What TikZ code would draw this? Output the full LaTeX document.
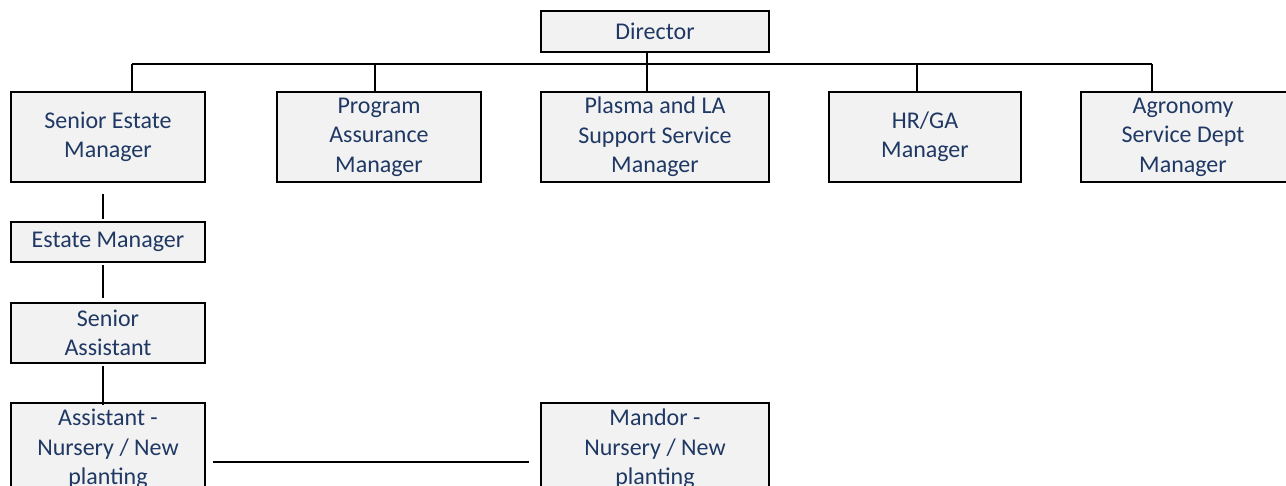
\documentclass[tikz,border=0pt]{standalone}
\usepackage{fontspec}
\setmainfont{Carlito}
\definecolor{txtblue}{HTML}{1F3864}
\definecolor{boxfill}{HTML}{F2F2F2}
\tikzset{
  orgtext/.style={align=center, text=txtblue, font=\fontsize{12}{14.7}\selectfont, inner sep=0pt},
  orgbox/.style={draw=black, line width=1.1pt, fill=boxfill, rectangle, orgtext},
  conn/.style={draw=black, line width=0.9pt}
}
\begin{document}
\begin{tikzpicture}[x=0.5pt, y=-0.5pt]
\useasboundingbox (0,0) rectangle (1286,486);
\clip (0,0) rectangle (1286,486);
\fill[white] (0,0) rectangle (1286,486);
% nodes
\node[orgbox, minimum width=114pt, minimum height=20.5pt] (dir) at (655,31.5) {Director};
\node[orgbox, minimum width=97pt, minimum height=45pt] (sem) at (108,137) {Senior Estate\\Manager};
\node[orgbox, minimum width=102pt, minimum height=45pt] (pam) at (379,137) {Program\\Assurance\\Manager};
\node[orgbox, minimum width=114pt, minimum height=45pt] (pla) at (655,137) {Plasma and LA\\Support Service\\Manager};
\node[orgbox, minimum width=96pt, minimum height=45pt] (hrg) at (925,137) {HR/GA\\Manager};
\node[orgbox, minimum width=108pt, minimum height=45pt,
  label={[orgtext, xshift=-3pt]center:{Agronomy\\Service Dept\\Manager}}] (agr) at (1189,137) {};
\node[orgbox, minimum width=97pt, minimum height=20pt] (em) at (108,242) {Estate Manager};
\node[orgbox, minimum width=97pt, minimum height=30pt] (sa) at (108,333) {Senior\\Assistant};
\node[orgbox, minimum width=97pt, minimum height=46pt] (asn) at (108,449) {Assistant -\\Nursery / New\\planting};
\node[orgbox, minimum width=114pt, minimum height=46pt] (man) at (655,449) {Mandor -\\Nursery / New\\planting};
% bus coordinates
\coordinate (d1) at (132,64);
\coordinate (d2) at (375,64);
\coordinate (d3) at (647,64);
\coordinate (d4) at (917,64);
\coordinate (d5) at (1152,64);
\coordinate (col) at (103,0);
% connectors
\draw[conn] (d1) -- (d5);
\draw[conn] (d1) -- (d1 |- sem.north);
\draw[conn] (d2) -- (d2 |- pam.north);
\draw[conn] (dir.south -| d3) -- (d3 |- pla.north);
\draw[conn] (d4) -- (d4 |- hrg.north);
\draw[conn] (d5) -- (d5 |- agr.north);
\draw[conn] ([yshift=-5.5pt]sem.south -| col) -- ([yshift=1pt]em.north -| col);
\draw[conn] ([yshift=-1pt]em.south -| col) -- ([yshift=2pt]sa.north -| col);
\draw[conn] ([yshift=-1pt]sa.south -| col) -- ([yshift=-1.5pt]asn.north -| col);
\draw[conn] ([xshift=3.5pt,yshift=-6.5pt]asn.east) -- ([xshift=-5.5pt,yshift=-6.5pt]man.west);
\end{tikzpicture}
\end{document}
